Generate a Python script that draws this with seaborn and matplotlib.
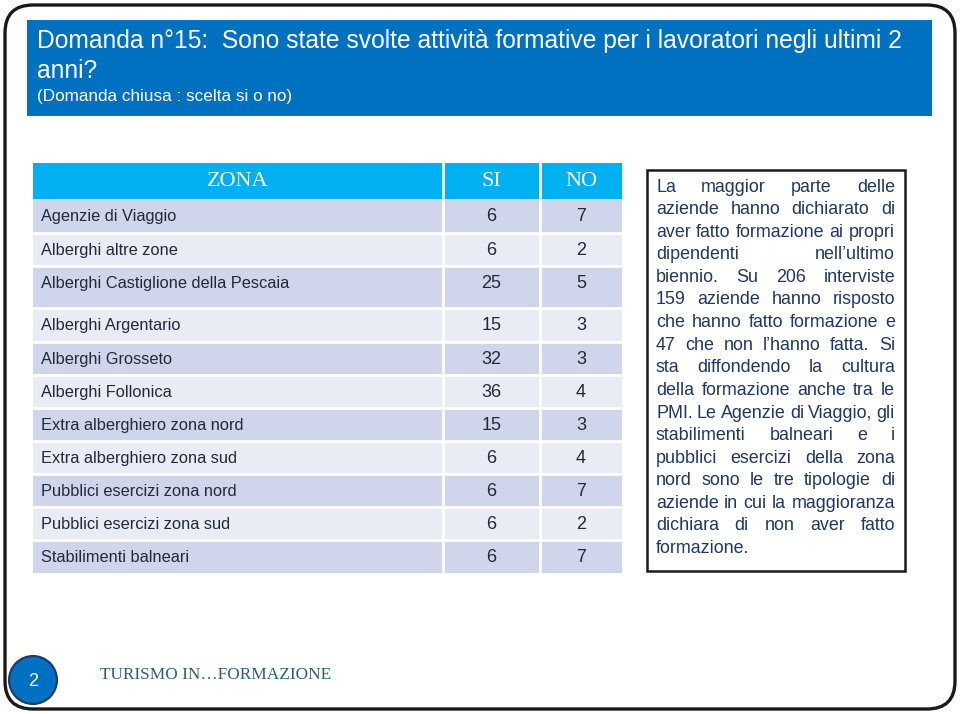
import matplotlib
matplotlib.use("Agg")
import matplotlib.pyplot as plt
import seaborn as sns
from matplotlib.patches import Rectangle, FancyBboxPatch, Circle

# ---- dati della tabella ----
zone = [
    "Agenzie di Viaggio", "Alberghi altre zone", "Alberghi Castiglione della Pescaia",
    "Alberghi Argentario", "Alberghi Grosseto", "Alberghi Follonica",
    "Extra alberghiero zona nord", "Extra alberghiero zona sud",
    "Pubblici esercizi zona nord", "Pubblici esercizi zona sud", "Stabilimenti balneari",
]
si = [6, 6, 25, 15, 32, 36, 15, 6, 6, 6, 6]
no = [7, 2, 5, 3, 3, 4, 3, 4, 7, 2, 7]
intestazioni = ["ZONA", "SI", "NO"]

titolo_1 = "Domanda n°15:  Sono state svolte attività formative per i lavoratori negli ultimi 2"
titolo_2 = "anni?"
sottotitolo = "(Domanda chiusa : scelta si o no)"

commento = [
    "La maggior parte delle",
    "aziende hanno dichiarato di",
    "aver fatto formazione ai propri",
    "dipendenti nell’ultimo",
    "biennio. Su 206 interviste",
    "159 aziende hanno risposto",
    "che hanno fatto formazione e",
    "47 che non l’hanno fatta. Si",
    "sta diffondendo la cultura",
    "della formazione anche tra le",
    "PMI. Le Agenzie di Viaggio, gli",
    "stabilimenti balneari e i",
    "pubblici esercizi della zona",
    "nord sono le tre tipologie di",
    "aziende in cui la maggioranza",
    "dichiara di non aver fatto",
    "formazione.",
]
footer = "TURISMO IN…FORMAZIONE"
pagina = "2"

sns.set_theme(style="white")
plt.rcParams["font.family"] = ["Liberation Sans", "DejaVu Sans"]

fig = plt.figure(figsize=(9.6, 7.14), dpi=100)
ax = fig.add_axes([0, 0, 1, 1])
ax.set_xlim(0, 960)
ax.set_ylim(714, 0)
ax.axis("off")
renderer = fig.canvas.get_renderer()

# cornice della slide
ax.add_patch(FancyBboxPatch((5, 5), 950, 704, boxstyle="round,pad=0,rounding_size=28",
                            fc="white", ec="#1a1a1a", lw=2.4))

# banda del titolo
ax.add_patch(Rectangle((27, 20), 905, 96, fc="#0070C0", ec="none"))
t1 = ax.text(37, 41, titolo_1, color="white", fontsize=16, va="center", ha="left")
# adatta la larghezza della prima riga al riferimento (37 -> 906 px)
w = t1.get_window_extent(renderer).width
fs_tit = 16 * 869 / w
t1.set_fontsize(fs_tit)
ax.text(37, 71, titolo_2, color="white", fontsize=fs_tit, va="center", ha="left")
ax.text(37, 97, sottotitolo, color="white", fontsize=12.3, va="center")

# tabella
x0, x1, x2, x3 = 33, 443, 540, 622
ax.add_patch(Rectangle((x0, 163), x3 - x0, 36, fc="#00B0F0", ec="none"))
for lab, xc in zip(intestazioni, [(x0 + x1) / 2, (x1 + x2) / 2, (x2 + x3) / 2]):
    ax.text(xc, 181, lab, color="white", fontsize=16, family="Liberation Serif",
            ha="center", va="center")

bordi = [199, 233, 266, 308, 342, 375, 408, 441, 474, 507, 540, 573]
fs_tab = 11.8
for i, (z, s, n) in enumerate(zip(zone, si, no)):
    top, bot = bordi[i], bordi[i + 1]
    col = "#CFD5EA" if i % 2 == 0 else "#E9EBF5"
    ax.add_patch(Rectangle((x0, top), x3 - x0, bot - top, fc=col, ec="none"))
    yc = top + 17.5
    ax.text(41, yc, z, fontsize=fs_tab, color="#222a3a", va="center")
    ax.text((x1 + x2) / 2, yc, str(s), fontsize=13, color="#222a3a",
            ha="center", va="center")
    ax.text((x2 + x3) / 2, yc, str(n), fontsize=13, color="#222a3a",
            ha="center", va="center")
    if i > 0:
        ax.plot([x0, x3], [top, top], color="white", lw=2)
for xv in [x1, x2]:
    ax.plot([xv, xv], [163, 573], color="white", lw=2)

# box di commento con testo giustificato
ax.add_patch(Rectangle((647, 170), 258, 401, fc="white", ec="#1a1a1a", lw=1.8))
left, right = 656, 895
fs0 = 12.0
gap_min = 0.24  # spazio minimo tra parole, in em


def larghezza_riga(riga, fs):
    ws = []
    for p in riga.split():
        t = ax.text(0, 0, p, fontsize=fs)
        ws.append(t.get_window_extent(renderer).width)
        t.remove()
    em = renderer.points_to_pixels(fs)
    return sum(ws) + gap_min * em * (len(ws) - 1)


maxw = max(larghezza_riga(r, fs0) for r in commento)
fs_box = fs0 * (right - left) / maxw
for k, riga in enumerate(commento):
    y = 187 + k * 22.6
    parole = riga.split()
    objs = [ax.text(0, y, p, fontsize=fs_box, color="#1F3864", va="center", ha="left")
            for p in parole]
    widths = [o.get_window_extent(renderer).width for o in objs]
    if k == len(commento) - 1 or len(objs) == 1:
        gap = renderer.points_to_pixels(fs_box) * 0.28
    else:
        gap = (right - left - sum(widths)) / (len(objs) - 1)
    x = left
    for o, w in zip(objs, widths):
        o.set_x(x)
        x += w + gap

# piè di pagina
ax.add_patch(Circle((33, 680), 24, fc="#0070C0", ec="#1F3864", lw=1.5))
ax.text(33, 681, pagina, color="white", fontsize=13, ha="center", va="center")
ax.text(100, 675, footer, color="#2E5F70", fontsize=12.4, family="Liberation Serif",
        va="center", ha="left")

fig.savefig("out.png", dpi=100)
